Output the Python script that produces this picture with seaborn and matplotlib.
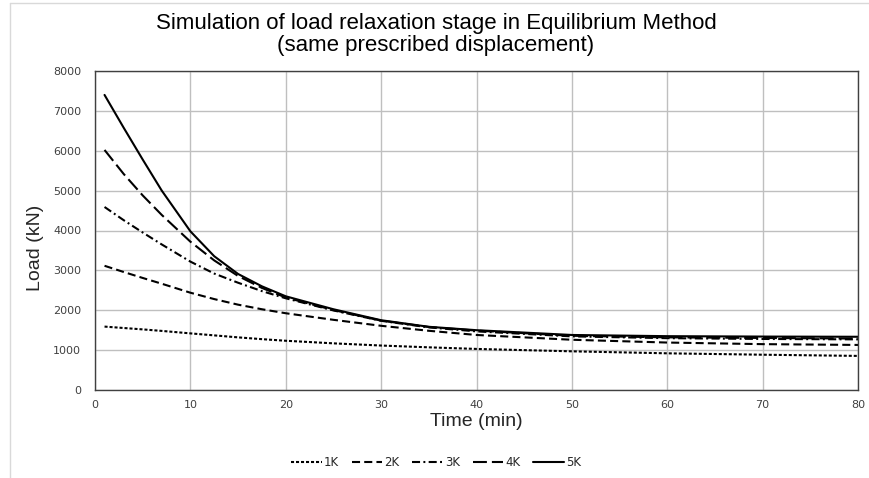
import matplotlib
matplotlib.use("Agg")
import matplotlib.pyplot as plt
import seaborn as sns
import pandas as pd
from matplotlib.lines import Line2D

time_min = [1, 3, 5, 7, 10, 12.5, 15, 17.5, 20, 25, 30, 35, 40, 50, 60, 70, 80]
load_1k = [1590, 1555, 1520, 1482, 1420, 1370, 1320, 1275, 1235, 1170, 1115, 1070, 1030, 970, 920, 885, 855]
load_2k = [3115, 2960, 2810, 2665, 2440, 2280, 2140, 2025, 1925, 1760, 1610, 1485, 1380, 1260, 1190, 1150, 1130]
load_3k = [4590, 4260, 3950, 3650, 3220, 2920, 2690, 2480, 2300, 1995, 1735, 1570, 1470, 1345, 1300, 1280, 1270]
load_4k = [6020, 5420, 4880, 4390, 3720, 3250, 2860, 2560, 2320, 2005, 1740, 1580, 1490, 1360, 1320, 1305, 1290]
load_5k = [7400, 6580, 5780, 5000, 3980, 3355, 2910, 2600, 2350, 2025, 1750, 1585, 1500, 1380, 1350, 1340, 1335]
series_names = ["1K", "2K", "3K", "4K", "5K"]
title_line1 = "Simulation of load relaxation stage in Equilibrium Method"
title_line2 = "(same prescribed displacement)"
x_ticks = list(range(0, 81, 10))
y_ticks = list(range(0, 8001, 1000))

sns.set_style("white")
plt.rcParams["font.family"] = ["DejaVu Sans"]
plt.rcParams["lines.scale_dashes"] = False

rows = []
for name, vals in zip(series_names, [load_1k, load_2k, load_3k, load_4k, load_5k]):
    for t, v in zip(time_min, vals):
        rows.append({"Time": t, "Load": v, "Series": name})
df = pd.DataFrame(rows)

W, H = 869, 478
fig = plt.figure(figsize=(W / 100, H / 100), dpi=100)
ax = fig.add_axes([95 / W, 1 - 390 / H, (858 - 95) / W, (390 - 71) / H])

dashes = {
    "1K": (2.2, 1.4),
    "2K": (5.8, 3.0),
    "3K": (5.8, 2.4, 1.4, 2.4),
    "4K": (10, 3.6),
    "5K": "",
}
palette = {n: "black" for n in series_names}
sns.lineplot(data=df, x="Time", y="Load", hue="Series", style="Series",
             dashes=dashes, palette=palette, linewidth=1.5, ax=ax,
             hue_order=series_names, style_order=series_names)
for ln in ax.get_lines():
    ln.set_solid_joinstyle("round")
    ln.set_dash_joinstyle("round")

ax.set_xlim(0, 80)
ax.set_ylim(0, 8000)
ax.set_xticks(x_ticks)
ax.set_yticks(y_ticks)
ax.grid(True, color="#bfbfbf", linewidth=1)
ax.set_axisbelow(True)
for s in ax.spines.values():
    s.set_color("#404040")
    s.set_linewidth(1.0)
ax.tick_params(axis="both", length=0, labelsize=8, colors="#404040", pad=7)
ax.tick_params(axis="y", pad=10)
ax.set_xlabel("")
ax.set_ylabel("")

fig.text(436 / W, 1 - 23 / H, title_line1, ha="center", va="center",
         fontsize=16, family="Liberation Sans", color="black")
fig.text(436 / W, 1 - 46 / H, title_line2, ha="center", va="center",
         fontsize=16, family="Liberation Sans", color="black")
fig.text(476.5 / W, 1 - 422 / H, "Time (min)", ha="center", va="center",
         fontsize=14, family="Liberation Sans")
fig.text(35 / W, 1 - 248 / H, "Load (kN)", ha="center", va="center",
         fontsize=14, family="Liberation Sans", rotation=90)

leg = ax.legend(loc="center", bbox_to_anchor=(436 / W, 1 - 463 / H),
                bbox_transform=fig.transFigure, ncol=5, frameon=False,
                handlelength=2.6, handletextpad=0.15, columnspacing=1.1,
                fontsize=8.5)
for t in leg.get_texts():
    t.set_color("#262626")

fig.add_artist(Line2D([10 / W, 10 / W], [0, 1 - 3 / H], color="#d9d9d9", linewidth=1))
fig.add_artist(Line2D([10 / W, 1], [1 - 3 / H, 1 - 3 / H], color="#d9d9d9", linewidth=1))

fig.savefig("out.png", dpi=100)
